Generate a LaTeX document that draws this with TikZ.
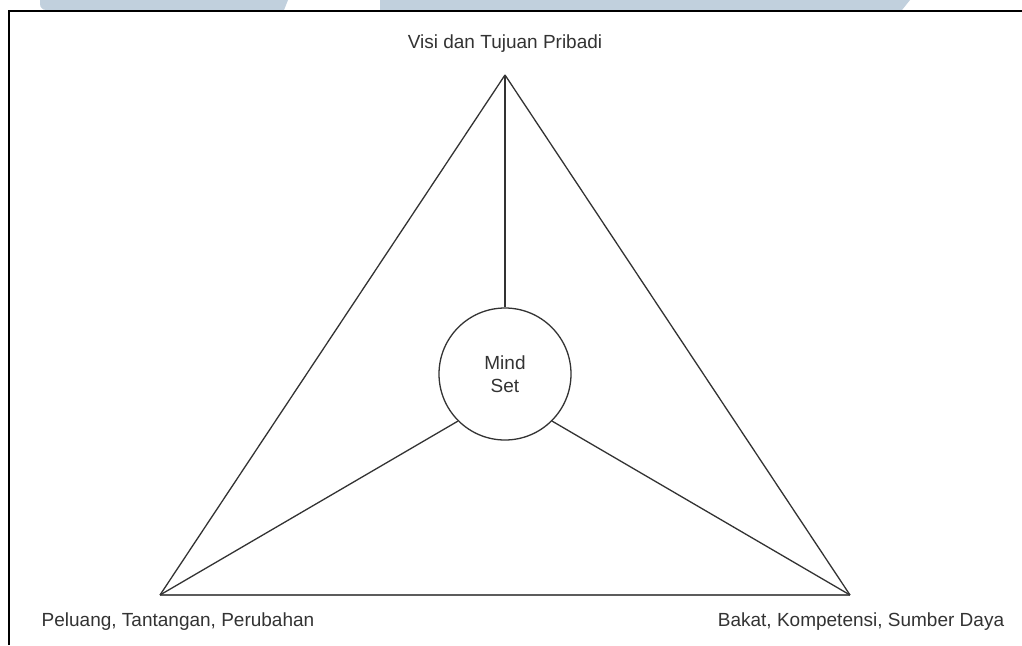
\documentclass[tikz,border=0pt]{standalone}
\usepackage{fontspec}
\setmainfont{Liberation Sans}
\definecolor{inkgray}{HTML}{333333}
\definecolor{markblue}{HTML}{C1D0DD}
\tikzset{
  edge/.style={draw=inkgray, line width=1.3pt},
  label/.style={text=inkgray, font=\fontsize{19}{23}\selectfont, inner sep=0pt},
  core/.style={circle, draw=inkgray, line width=1.3pt, minimum size=132pt, inner sep=0pt, align=center, text=inkgray, font=\fontsize{19}{23}\selectfont}
}
\begin{document}
\begin{tikzpicture}[x=1pt, y=-1pt]
	\useasboundingbox (0,0) rectangle (1022,645);
	\fill[white] (0,0) rectangle (1022,645);
	
	% Watermark strips
	\fill[markblue] (40,0) -- (288,0) -- (284,10) -- (46,10) to[out=180,in=-90] (40,4) -- cycle;
	\fill[markblue] (380,0) -- (910,0) -- (902,10) -- (380,10) -- cycle;
	
	% Frame
	\draw[black, line width=1.5pt] (9,645) -- (9,11) -- (1022,11);
	
	% Corners
	\coordinate (V) at (505,75);
	\coordinate (P) at (160,595);
	\coordinate (B) at (850,595);
	
	% Centre
	\node[core] (M) at (505,374) {Mind\\Set};
	
	% Triangle
	\draw[edge] (V) -- (P);
	\draw[edge] (V) -- (B);
	\draw[edge, line width=1.8pt, draw=inkgray!80] (P) -- (B);
	
	% Spokes
	\draw[edge] (V) -- (M.north);
	\draw[edge] (P) -- (M.225);
	\draw[edge] (B) -- (M.-45);
	
	% Labels
	\node[label] (visi) at (505,44) {Visi dan Tujuan Pribadi};
	\node[label] (peluang) at (178,622) {Peluang, Tantangan, Perubahan};
	\node[label] (bakat) at (861,622) {Bakat, Kompetensi, Sumber Daya};
\end{tikzpicture}
\end{document}
